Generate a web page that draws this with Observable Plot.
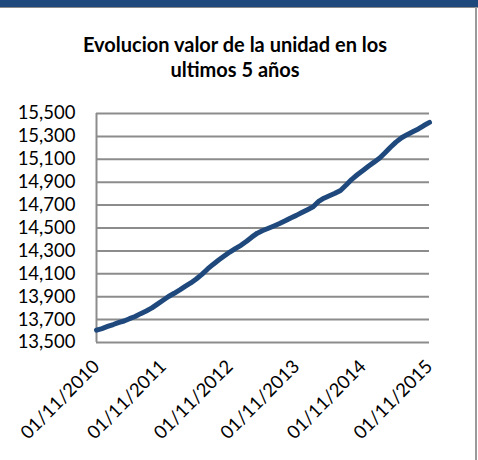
<!DOCTYPE html>
<html><head><meta charset="utf-8">
<script src="https://cdn.jsdelivr.net/npm/d3@7"></script>
<script src="https://cdn.jsdelivr.net/npm/@observablehq/plot@0.6"></script>
<style>
html,body{margin:0;padding:0;background:#fff;}
#wrap{position:relative;width:478px;height:460px;overflow:hidden;font-family:Lato,sans-serif;}
#band{position:absolute;left:0;top:0;width:478px;height:7px;background:#1F497D;border-bottom:1px solid #8a8a8a;}
#rb{position:absolute;left:475px;top:7px;width:2px;height:453px;background:#9a9a9a;}
#title{position:absolute;left:0;top:8px;width:470px;text-align:center;font-family:Lato,sans-serif;font-weight:bold;font-size:20px;line-height:25px;padding-top:24px;color:#000;margin:0;}
#chart{position:absolute;left:0;top:96px;}
</style>
</head><body>
<div id="wrap">
  <div id="band"></div>
  <div id="rb"></div>
  <div id="title">Evolucion valor de la unidad en los<br>ultimos 5 años</div>
  <div id="chart"></div>
</div>
<script>
// Monthly points (first of each month)
const months = [
  "2010-11","2010-12","2011-01","2011-02","2011-03","2011-04","2011-05","2011-06","2011-07","2011-08","2011-09","2011-10",
  "2011-11","2011-12","2012-01","2012-02","2012-03","2012-04","2012-05","2012-06","2012-07","2012-08","2012-09","2012-10",
  "2012-11","2012-12","2013-01","2013-02","2013-03","2013-04","2013-05","2013-06","2013-07","2013-08","2013-09","2013-10",
  "2013-11","2013-12","2014-01","2014-02","2014-03","2014-04","2014-05","2014-06","2014-07","2014-08","2014-09","2014-10",
  "2014-11","2014-12","2015-01","2015-02","2015-03","2015-04","2015-05","2015-06","2015-07","2015-08","2015-09","2015-10",
  "2015-11"
];
const unitValues = [
  13608,13622,13640,13657,13674,13688,13708,13727,13752,13775,13802,13835,
  13869,13902,13930,13960,13990,14020,14055,14095,14140,14182,14220,14255,
  14290,14320,14349,14385,14420,14455,14478,14498,14518,14539,14563,14588,
  14610,14635,14660,14685,14730,14760,14781,14803,14828,14875,14925,14965,
  15003,15040,15075,15112,15155,15205,15250,15288,15315,15340,15365,15395,
  15422
];
const yTicks = [13500,13700,13900,14100,14300,14500,14700,14900,15100,15300,15500];
const xTickLabels = ["01/11/2010","01/11/2011","01/11/2012","01/11/2013","01/11/2014","01/11/2015"];

const parseMonth = d3.utcParse("%Y-%m");
const parseLabel = d3.utcParse("%d/%m/%Y");
const data = months.map((m, i) => ({date: parseMonth(m), value: unitValues[i]}));
const xTicks = xTickLabels.map(s => ({date: parseLabel(s), label: s}));

const gridColor = "#8c8c8c";
const chart = Plot.plot({
  width: 478,
  height: 364,
  marginLeft: 96,
  marginRight: 49,
  marginTop: 17,
  marginBottom: 118,
  style: {fontFamily: "Lato, sans-serif", fontSize: "18.5px", color: "#000", background: "transparent", overflow: "visible"},
  x: {type: "utc", domain: [xTicks[0].date, xTicks[xTicks.length - 1].date], axis: null},
  y: {domain: [yTicks[0], yTicks[yTicks.length - 1]]},
  marks: [
    Plot.gridY(yTicks, {stroke: gridColor, strokeOpacity: 1, strokeWidth: 2}),
    Plot.ruleX([xTicks[0].date], {stroke: gridColor, strokeWidth: 2}),
    Plot.axisY(yTicks, {tickSize: 0, tickPadding: 21, tickFormat: d3.format(","), label: null, fontSize: 18.5, fill: "#000"}),
    Plot.text(xTicks, {x: "date", text: "label", frameAnchor: "bottom", dy: 21, rotate: -45, textAnchor: "end", lineAnchor: "middle", fontSize: 18.5, fill: "#000"}),
    Plot.line(data, {x: "date", y: "value", stroke: "#1F497D", strokeWidth: 5, strokeLinejoin: "round", strokeLinecap: "round"})
  ]
});
document.getElementById("chart").appendChild(chart);
</script>
</body></html>
